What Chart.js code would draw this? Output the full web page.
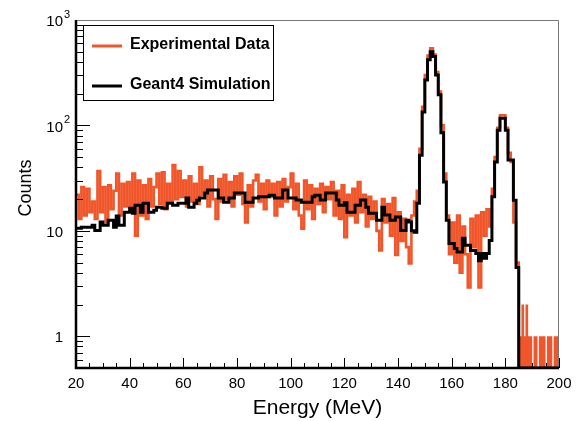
<!DOCTYPE html>
<html>
<head>
<meta charset="utf-8">
<script src="https://cdn.jsdelivr.net/npm/chart.js@4.4.1/dist/chart.umd.min.js"></script>
<style>
  html, body { margin: 0; padding: 0; background: #fff; }
  #wrap { width: 579px; height: 421px; }
</style>
</head>
<body>
<div id="wrap"><canvas id="spectrum" width="579" height="421"></canvas></div>
<script>
// energy spectrum, measured vs Geant4 (1 MeV bins, tail in 0.5 MeV bins)

const binStart = 20;
const binWidth = 1;

const expCounts = [
  22, 13, 26, 14, 25, 15, 19, 13, 37, 15,
  26, 12, 27, 16, 24, 35, 14, 28, 17, 29,
  16, 35, 9, 30, 14, 27, 13, 31, 17, 26,
  35, 18, 36, 16, 28, 19, 42, 20, 37, 21,
  30, 17, 33, 19, 28, 18, 40, 22, 30, 17,
  33, 20, 13, 31, 19, 34, 20, 29, 17, 33,
  22, 35, 18, 12, 27, 17, 30, 34, 19, 28,
  16, 30, 21, 28, 14, 29, 17, 31, 19, 26,
  35, 16, 28, 14, 10.5, 30, 16, 27, 13, 25,
  18, 28, 15, 26, 20, 29, 14, 24, 13, 27,
  8.7, 22, 14, 25, 12, 29, 15, 22, 11, 21,
  13, 19, 10, 6.5, 20, 12, 18, 9, 20.5, 5.9,
  15, 8, 13, 7, 4.9, 14, 19, 24, 60, 150,
  300, 460, 540, 470, 320, 210, 100, 35, 14, 6,
  12, 5, 14, 4, 11, 6, 2.9, 13, 7, 14,
  2.9, 15, 9, 16, 11, 25, 50, 95, 125, 125,
  95, 55, 45, 12, 5
];

const simCounts = [
  10.6, 10.6, 10.8, 10.8, 10.8, 10.8, 11.3, 10.1, 10.1, 12.1,
  11.3, 11.3, 12.6, 12.6, 10.8, 13.8, 11.3, 11.3, 15, 15,
  16.4, 14.7, 17.5, 17.5, 15, 18.3, 18.3, 15, 15, 15.7,
  16.7, 16.7, 16.4, 16.4, 18.3, 18.3, 17.5, 17.5, 18.3, 18.3,
  18.3, 20.5, 16.7, 16.7, 18.3, 19.5, 20.5, 20.5, 22.8, 24.4,
  24.4, 24.4, 24.4, 20.5, 20.5, 18.7, 18.7, 20.5, 20.5, 22.8,
  22.8, 22.8, 22.8, 18.7, 18.7, 18.7, 20.5, 20.5, 21, 21,
  21, 21, 21.8, 21.8, 20.5, 20.5, 20.5, 24.4, 24.4, 20.5,
  20.5, 20.5, 19.6, 19.6, 18.7, 18.7, 18.7, 18.7, 21, 21.8,
  21.8, 19.6, 19.6, 22.8, 22.8, 22.8, 22.8, 19.6, 17.5, 17.5,
  18.5, 15, 15, 15, 17.5, 17.5, 19.6, 19.6, 16.7, 14.7,
  14.7, 14.7, 12.6, 12.6, 16.7, 14.1, 14.1, 12.6, 12.6, 13.5,
  13.5, 10.1, 10.1, 12.6, 12.1, 10, 9.7, 18.3, 52, 134,
  270, 420, 500, 450, 300, 195, 85, 29, 12.6, 7.6,
  7.6, 6.8, 6.3, 6.3, 8.5, 7.3, 7.3, 6.5, 6.5, 6.1,
  5.2, 6.1, 5.5, 6.1, 8.1, 21, 45, 90, 117, 117,
  90, 47, 47, 19.5, 4.5,
  0, 0, 0, 0, 0, 0, 0, 0, 0, 0, 0, 0, 0, 0, 0
];

const tailStart = 185;
const tailWidth = 0.5;
const expTail = [
  1, 1, 2, 2, 1, 2, 2, 1, 1, 1,
  0, 1, 1, 1, 0, 1, 1, 1, 1, 1,
  0, 1, 1, 1, 1, 0, 1, 1, 1, 1
];

const xTicks = [20, 40, 60, 80, 100, 120, 140, 160, 180, 200];
const yLabelValues = [1, 10, 100, 1000];
const yLabelBase = ["1", "10", "10", "10"];
const yLabelSup = ["", "", "2", "3"];

const yMin = 0.5;
const yMax = 1000;
const orange = "#f0562a";
const font = "'Liberation Sans', Arial, sans-serif";

// points at bin lower edges + one closing point; empty bins sit on the axis floor
function toSteps(counts, start, width, closeY) {
  const pts = counts.map((c, i) => ({ x: start + i * width, y: c > 0 ? c : yMin }));
  pts.push({ x: start + counts.length * width, y: closeY > 0 ? closeY : yMin });
  return pts;
}

const framePlugin = {
  id: "frame",
  afterDraw(chart) {
    const { ctx, chartArea: a, scales: { x, y } } = chart;
    ctx.save();

    // tick marks drawn inward
    ctx.strokeStyle = "#000";
    ctx.lineWidth = 1;
    ctx.beginPath();
    for (let e = 20; e <= 200; e += 5) {
      const px = Math.round(x.getPixelForValue(e)) + 0.5;
      const len = e % 20 === 0 ? 10 : 5;
      ctx.moveTo(px, a.bottom);
      ctx.lineTo(px, a.bottom - len);
    }
    for (let p = -1; p <= 3; p++) {
      for (let k = 1; k < 10; k++) {
        const v = k * Math.pow(10, p);
        if (v < yMin || v > yMax + 0.01) continue;
        const py = Math.round(y.getPixelForValue(v)) + 0.5;
        const len = k === 1 ? 14 : 7;
        ctx.moveTo(a.left, py);
        ctx.lineTo(a.left + len, py);
      }
    }
    ctx.stroke();

    // top / right border
    ctx.strokeStyle = "#777";
    ctx.lineWidth = 1;
    ctx.beginPath();
    ctx.moveTo(a.left, a.top + 0.5);
    ctx.lineTo(a.right - 0.5, a.top + 0.5);
    ctx.lineTo(a.right - 0.5, a.bottom);
    ctx.stroke();

    // left / bottom axis
    ctx.strokeStyle = "#000";
    ctx.lineWidth = 2.5;
    ctx.beginPath();
    ctx.moveTo(a.left, a.top);
    ctx.lineTo(a.left, a.bottom);
    ctx.lineTo(a.right, a.bottom);
    ctx.stroke();

    // y labels with superscript exponents
    ctx.fillStyle = "#000";
    ctx.textBaseline = "middle";
    yLabelValues.forEach((v, i) => {
      const py = y.getPixelForValue(v) + 2;
      const xr = a.left - 13;
      ctx.font = "15px " + font;
      ctx.textAlign = "right";
      ctx.fillText(yLabelBase[i], xr, py);
      if (yLabelSup[i]) {
        ctx.font = "11px " + font;
        ctx.textAlign = "left";
        ctx.fillText(yLabelSup[i], xr + 1, py - 7);
      }
    });

    // y axis title
    ctx.save();
    ctx.translate(26, 188);
    ctx.rotate(-Math.PI / 2);
    ctx.font = "18px " + font;
    ctx.textAlign = "center";
    ctx.textBaseline = "middle";
    ctx.fillText("Counts", 0, 0);
    ctx.restore();

    // legend box
    ctx.fillStyle = "#fff";
    ctx.fillRect(83.5, 25.5, 190, 75);
    ctx.strokeStyle = "#000";
    ctx.lineWidth = 1;
    ctx.strokeRect(83.5, 25.5, 190, 75);
    const entries = [
      { text: "Experimental Data", color: orange, w: 3, y: 45 },
      { text: "Geant4 Simulation", color: "#000", w: 3, y: 85 }
    ];
    ctx.font = "bold 16px " + font;
    ctx.textAlign = "left";
    entries.forEach(en => {
      ctx.strokeStyle = en.color;
      ctx.lineWidth = en.w;
      ctx.beginPath();
      ctx.moveTo(92, en.y + 1);
      ctx.lineTo(122, en.y + 1);
      ctx.stroke();
      ctx.fillStyle = "#000";
      ctx.fillText(en.text, 130, en.y);
    });
    ctx.restore();
  }
};

new Chart(document.getElementById("spectrum"), {
  type: "line",
  data: {
    datasets: [
      {
        label: "Geant4 Simulation",
        data: toSteps(simCounts, binStart, binWidth, 0),
        borderColor: "#000",
        borderWidth: 3,
        stepped: "before",
        pointRadius: 0,
        fill: false,
        order: 0
      },
      {
        label: "Experimental Data",
        data: toSteps(expCounts, binStart, binWidth, 0),
        borderColor: orange,
        borderWidth: 2.6,
        stepped: "before",
        pointRadius: 0,
        fill: false,
        order: 1
      },
      {
        label: "Experimental tail",
        data: toSteps(expTail, tailStart, tailWidth, 1),
        borderColor: "rgba(0,0,0,0)",
        backgroundColor: orange,
        borderWidth: 1,
        stepped: "before",
        pointRadius: 0,
        fill: "start",
        order: 2
      }
    ]
  },
  options: {
    responsive: false,
    animation: false,
    layout: { padding: { left: 0, right: 20, top: 20, bottom: 0 } },
    plugins: { legend: { display: false }, tooltip: { enabled: false } },
    scales: {
      x: {
        type: "linear",
        min: 20,
        max: 200,
        afterBuildTicks: s => { s.ticks = xTicks.map(v => ({ value: v })); },
        afterFit: s => { s.height = 53; },
        grid: { display: false, drawTicks: false },
        border: { display: false },
        ticks: { color: "#000", padding: 7, maxRotation: 0, font: { family: font, size: 15 } },
        title: { display: true, text: "Energy (MeV)", color: "#000", padding: { top: 0, bottom: 0 }, font: { family: font, size: 21 } }
      },
      y: {
        type: "logarithmic",
        min: yMin,
        max: yMax,
        afterFit: s => { s.width = 76; },
        grid: { display: false, drawTicks: false },
        border: { display: false },
        ticks: { display: false },
        title: { display: false }
      }
    }
  },
  plugins: [framePlugin]
});
</script>
</body>
</html>
